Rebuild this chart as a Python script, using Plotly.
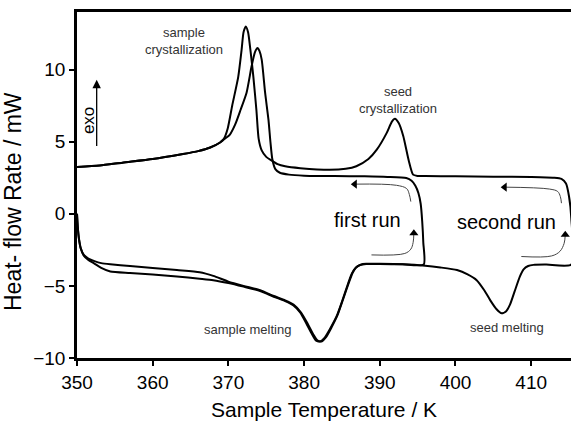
import plotly.graph_objects as go

# ---- DSC traces (temperature in K, heat flow in mW), listed in scan order ----
# first run: heating 350 -> 396 K, then cooling back to 350 K
run1_T = [350.0, 350.1, 350.25, 350.5, 350.9, 351.5, 352.3, 353.2, 354.4, 357, 360, 363.2,
          366.2, 368, 370, 372, 374.2, 376, 377.5, 378.6, 379.5, 380.3, 381.0, 381.6, 382.1,
          382.7, 383.4, 384.3, 385.0, 385.8, 386.3, 386.8, 387.4, 388.2, 390, 393, 395.8,
          395.75, 395.6, 395.4, 395.1, 394.7, 394.2, 393.5, 391, 388, 384, 380, 378, 376.8,
          376.2, 375.8, 375.55, 375.3, 374.85, 374.4, 374.1, 373.85, 373.5, 373.05, 372.4,
          371.6, 370.9, 370.2, 369.5, 368.9, 367.6, 366, 364, 360, 356, 353, 350]
run1_Q = [0.0, -0.9, -1.7, -2.4, -2.9, -3.2, -3.45, -3.75, -4.0, -4.1, -4.2, -4.35,
          -4.5, -4.6, -4.8, -5.05, -5.35, -5.75, -6.05, -6.35, -6.85, -7.6, -8.3, -8.8, -8.85,
          -8.6, -8.0, -7.1, -6.1, -4.85, -4.15, -3.75, -3.55, -3.48, -3.48, -3.5, -3.52,
          -2.0, -0.5, 0.7, 1.45, 1.95, 2.3, 2.48, 2.56, 2.6, 2.62, 2.65, 2.72, 2.85,
          3.1, 3.8, 5.0, 6.5, 8.4, 10.7, 11.3, 11.5, 11.2, 10.2, 8.4,
          7.2, 6.2, 5.5, 5.2, 4.95, 4.6, 4.35, 4.15, 3.8, 3.55, 3.35, 3.25]

# second run: heating 350 -> 415 K, then cooling back to 350 K
run2_T = [350.0, 350.1, 350.25, 350.5, 350.9, 351.5, 352.3, 353.2, 354.4, 357, 360, 363.2,
          366.2, 368, 370, 372, 374.2, 376, 377.5, 378.6, 379.6, 380.5, 381.2, 381.8, 382.3,
          382.9, 383.6, 384.4, 385.1, 385.9, 386.4, 386.9, 387.5, 388.2, 390, 393, 396, 398,
          400.2, 401.6, 402.8, 403.8, 404.6, 405.4, 406.1, 406.7, 407.2, 407.8, 408.5, 409.0,
          409.6, 410.3, 412, 415.3,
          415.3, 415.0, 414.6, 414.0, 413, 410, 405, 400, 396, 395, 394.4, 393.8, 393.1,
          392.5, 392.0, 391.6, 390.9, 389.6, 388.5, 386.9, 385.5, 383.4, 379.5, 377.5, 376.5,
          375.7, 375.0, 374.4, 374.0, 373.7, 373.3, 372.9, 372.6, 372.3, 372.0, 371.75, 371.3,
          370.5, 369.9, 369.4, 368.9, 367.6, 366, 364, 360, 356, 353, 350]
run2_Q = [0.0, -0.9, -1.7, -2.4, -2.85, -3.1, -3.28, -3.42, -3.5, -3.62, -3.75, -3.9,
          -4.05, -4.3, -4.7, -5.0, -5.3, -5.7, -6.0, -6.3, -6.85, -7.65, -8.35, -8.8, -8.85,
          -8.55, -7.9, -7.05, -6.0, -4.8, -4.1, -3.7, -3.52, -3.47, -3.47, -3.5, -3.6, -3.72,
          -3.9, -4.2, -4.6, -5.3, -6.0, -6.6, -6.9, -6.75, -6.3, -5.4, -4.35, -3.85,
          -3.62, -3.54, -3.52, -3.52,
          -0.3, 1.2, 2.1, 2.42, 2.5, 2.55, 2.58, 2.6, 2.62, 2.63, 2.72, 3.75, 5.4,
          6.3, 6.6, 6.4, 5.6, 4.45, 3.8, 3.3, 3.12, 3.05, 3.17, 3.3, 3.45,
          3.7, 3.95, 4.4, 5.2, 7.2, 9.5, 11.4, 12.6, 13.0, 12.6, 11.4, 9.5,
          7.5, 5.9, 5.2, 4.95, 4.6, 4.35, 4.15, 3.8, 3.55, 3.35, 3.25]

# curved scan-direction arrows (shaft points, last point = arrow tip)
arrow1_cool_T = [394.1, 393.9, 393.55, 392.2, 386.7]
arrow1_cool_Q = [0.85, 1.35, 1.75, 1.98, 2.06]
arrow1_heat_T = [388.9, 393.3, 394.1, 394.4, 394.5]
arrow1_heat_Q = [-2.85, -2.75, -2.45, -2.0, -1.35]
arrow2_cool_T = [414.0, 413.85, 413.5, 412.4, 406.5]
arrow2_cool_Q = [0.74, 1.2, 1.55, 1.72, 1.85]
arrow2_heat_T = [408.7, 412.7, 413.8, 414.35, 414.5]
arrow2_heat_Q = [-2.96, -2.92, -2.6, -2.05, -1.45]

x_ticks = [350, 360, 370, 380, 390, 400, 410]
y_ticks = [-10, -5, 0, 5, 10]

FONT = "Arial, Liberation Sans, sans-serif"

fig = go.Figure()

for T, Q in [(run1_T, run1_Q), (run2_T, run2_Q)]:
    fig.add_trace(go.Scatter(x=T, y=Q, mode="lines",
                             line=dict(color="black", width=2, shape="spline", smoothing=0.6),
                             showlegend=False, hoverinfo="skip"))

for T, Q, sym in [(arrow1_cool_T, arrow1_cool_Q, "triangle-left"),
                  (arrow1_heat_T, arrow1_heat_Q, "triangle-up"),
                  (arrow2_cool_T, arrow2_cool_Q, "triangle-left"),
                  (arrow2_heat_T, arrow2_heat_Q, "triangle-up")]:
    fig.add_trace(go.Scatter(x=T, y=Q, mode="lines",
                             line=dict(color="#444", width=1, shape="spline", smoothing=1),
                             showlegend=False, hoverinfo="skip"))
    fig.add_trace(go.Scatter(x=[T[-1]], y=[Q[-1]], mode="markers",
                             marker=dict(symbol=sym, size=8, color="black"),
                             showlegend=False, hoverinfo="skip"))

# "exo" direction arrow
fig.add_annotation(x=352.6, y=9.3, ax=352.6, ay=4.6, xref="x", yref="y", axref="x", ayref="y",
                   text="", showarrow=True, arrowhead=2, arrowsize=1.3, arrowwidth=1.3,
                   arrowcolor="black")

small = dict(family=FONT, size=13, color="#333")
big = dict(family=FONT, size=20, color="black")
labels = [
    (364.1, 12.0, "sample<br>crystallization", small, 0),
    (392.4, 7.9, "seed<br>crystallization", small, 0),
    (372.5, -8.05, "sample melting", small, 0),
    (406.8, -7.85, "seed melting", small, 0),
    (388.4, -0.42, "first run", big, 0),
    (406.8, -0.55, "second run", big, 0),
    (351.45, 6.5, "exo", dict(family=FONT, size=17, color="black"), -90),
]
for x, y, t, f, ang in labels:
    fig.add_annotation(x=x, y=y, xref="x", yref="y", text=t, showarrow=False, font=f,
                       textangle=ang, xanchor="center", yanchor="middle")

# axis titles
fig.add_annotation(xref="paper", yref="paper", x=0.5, y=0, yshift=-51, text="Sample Temperature / K",
                   showarrow=False, font=dict(family=FONT, size=21, color="black"),
                   xanchor="center", yanchor="middle")
fig.add_annotation(xref="paper", yref="paper", x=0, y=0.5, xshift=-64, yshift=-17,
                   text="Heat- flow Rate / mW",
                   showarrow=False, textangle=-90, font=dict(family=FONT, size=23, color="black"),
                   xanchor="center", yanchor="middle")

fig.update_layout(
    width=571, height=423,
    margin=dict(l=77, r=0, t=12, b=65),
    paper_bgcolor="white", plot_bgcolor="white",
    xaxis=dict(range=[350, 415.26], tickvals=x_ticks, ticks="outside", ticklen=5, tickwidth=2,
               tickcolor="black", showline=True, linewidth=2.5, linecolor="black", mirror=True,
               showgrid=False, zeroline=False,
               tickfont=dict(family=FONT, size=19, color="black")),
    yaxis=dict(range=[-10, 14], tickvals=y_ticks, ticks="outside", ticklen=5, tickwidth=2,
               tickcolor="black", showline=True, linewidth=2.5, linecolor="black",
               showgrid=False, zeroline=False,
               tickfont=dict(family=FONT, size=19, color="black")),
)

fig.write_html("out.html")
